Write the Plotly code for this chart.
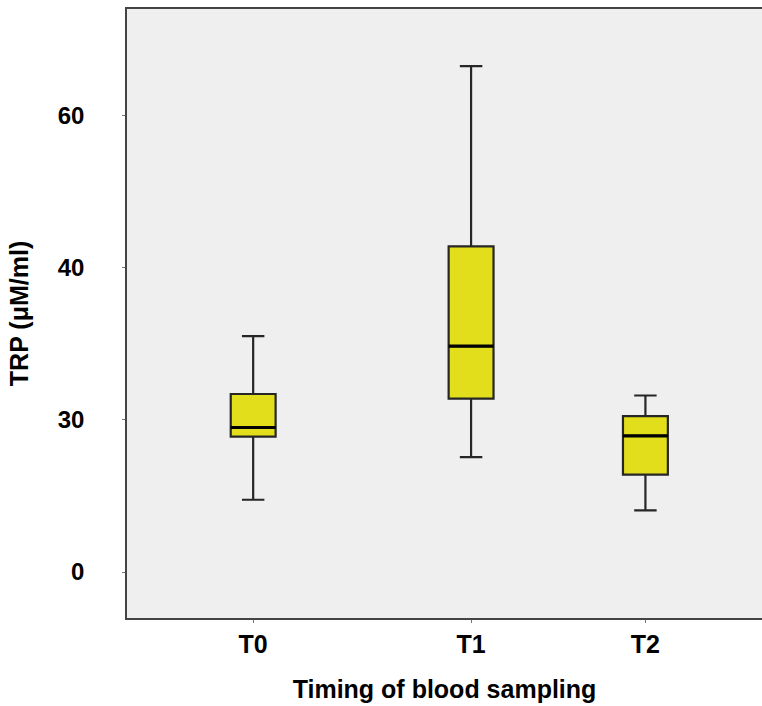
import plotly.graph_objects as go

# Data
categories = ["T0", "T1", "T2"]
cat_pos = [0.0, 1.0, 1.8]          # horizontal placement of each group
lower_whisker = [9.5, 15.1, 8.1]
q1 = [17.8, 22.8, 12.8]
median = [19.0, 29.7, 17.9]
q3 = [23.4, 42.8, 20.5]
upper_whisker = [31.0, 66.5, 23.2]
y_tickvals = [0, 20, 40, 60]
y_ticktext = ["0", "30", "40", "60"]

box_width = 0.206
fill = "rgb(226,222,28)"
font_family = "Liberation Sans, Arial, sans-serif"

fig = go.Figure()
fig.add_trace(go.Box(
    x=cat_pos, q1=q1, median=median, q3=q3,
    lowerfence=lower_whisker, upperfence=upper_whisker,
    width=box_width, whiskerwidth=0.5,
    fillcolor=fill, line=dict(color="#262626", width=2.2),
    boxpoints=False, showlegend=False, hoverinfo="skip",
))

# thicker median lines
for xp, m in zip(cat_pos, median):
    fig.add_trace(go.Scatter(
        x=[xp - box_width / 2, xp + box_width / 2], y=[m, m],
        mode="lines", line=dict(color="black", width=3.2),
        showlegend=False, hoverinfo="skip",
    ))

fig.update_layout(
    width=762, height=706,
    margin=dict(l=127, r=0, t=9, b=88),
    paper_bgcolor="white",
    plot_bgcolor="#efefef",
    font=dict(family=font_family, color="black"),
    xaxis=dict(
        range=[-0.579, 2.335],
        tickvals=cat_pos, ticktext=categories,
        showline=True, linecolor="#444", linewidth=1.5, mirror=True,
        ticks="outside", ticklen=3, tickcolor="#777",
        showgrid=False, zeroline=False,
        tickfont=dict(size=25, weight="bold", family=font_family),
        title=dict(text="Timing of blood sampling", standoff=24,
                   font=dict(size=25, weight="bold", family=font_family)),
    ),
    yaxis=dict(
        range=[-6.04, 74.0],
        tickvals=y_tickvals, ticktext=y_ticktext,
        showline=True, linecolor="#444", linewidth=1.5,
        ticks="outside", ticklen=3, tickcolor="#777",
        ticklabelstandoff=33,
        showgrid=False, zeroline=False,
        tickfont=dict(size=24, weight="bold", family=font_family),
        title=dict(text="TRP (μM/ml)", standoff=22,
                   font=dict(size=25, weight="bold", family=font_family)),
    ),
)

fig.write_html("out.html",
               config={"displayModeBar": False},
               post_script="document.body.style.margin='0';document.body.style.overflow='hidden';")
